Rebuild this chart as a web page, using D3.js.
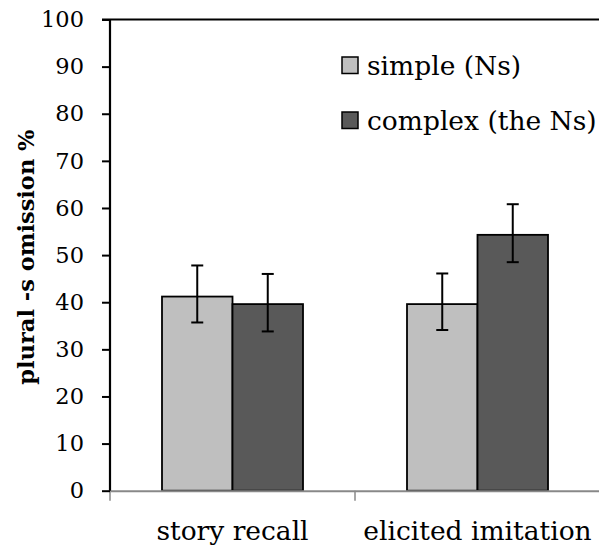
<!DOCTYPE html>
<html>
<head>
<meta charset="utf-8">
<script src="https://cdn.jsdelivr.net/npm/d3@7"></script>
<style>
  html, body { margin: 0; padding: 0; background: #fff; }
  svg { display: block; }
  text { font-family: "DejaVu Serif", serif; }
</style>
</head>
<body>
<svg id="chart" width="599" height="550"></svg>
<script>
const categories = ["story recall", "elicited imitation"];
const seriesNames = ["simple (Ns)", "complex (the Ns)"];
const seriesColors = ["#bfbfbf", "#595959"];
const simpleValues = [41.2, 39.6];
const complexValues = [39.6, 54.3];
const simpleErrLow = [35.7, 34.1];
const simpleErrHigh = [47.8, 46.1];
const complexErrLow = [33.8, 48.5];
const complexErrHigh = [46.0, 60.8];
const yTicks = [0, 10, 20, 30, 40, 50, 60, 70, 80, 90, 100];
const yTitle = "plural -s omission %";

const data = categories.map((c, i) => ({
  category: c,
  values: [
    { s: 0, v: simpleValues[i], lo: simpleErrLow[i], hi: simpleErrHigh[i] },
    { s: 1, v: complexValues[i], lo: complexErrLow[i], hi: complexErrHigh[i] }
  ]
}));

const svg = d3.select("#chart");
const mLeft = 110, mRight = 600, mTop = 19.5, mBottom = 490.7;

const x = d3.scaleBand().domain(categories).range([mLeft, mRight]).padding(0);
const barW = 70.5;
const xs = d3.scaleBand().domain([0, 1]).range([0, barW * 2]).padding(0);
const y = d3.scaleLinear().domain([0, 100]).range([mBottom, mTop]);

// top border
svg.append("line")
  .attr("x1", mLeft - 8).attr("x2", 599)
  .attr("y1", y(100)).attr("y2", y(100))
  .attr("stroke", "#000").attr("stroke-width", 2);

// bars
const groups = svg.append("g").selectAll("g").data(data).join("g")
  .attr("transform", d => `translate(${x(d.category) + x.bandwidth() / 2 - barW},0)`);

groups.selectAll("rect").data(d => d.values).join("rect")
  .attr("x", d => xs(d.s))
  .attr("width", xs.bandwidth())
  .attr("y", d => y(d.v))
  .attr("height", d => y(0) - y(d.v))
  .attr("fill", d => seriesColors[d.s])
  .attr("stroke", "#000")
  .attr("stroke-width", 1.8);

// error bars
const eb = groups.selectAll("g.err").data(d => d.values).join("g").attr("class", "err");
eb.append("line")
  .attr("x1", d => xs(d.s) + xs.bandwidth() / 2)
  .attr("x2", d => xs(d.s) + xs.bandwidth() / 2)
  .attr("y1", d => y(d.lo)).attr("y2", d => y(d.hi))
  .attr("stroke", "#000").attr("stroke-width", 2);
["lo", "hi"].forEach(k => {
  eb.append("line")
    .attr("x1", d => xs(d.s) + xs.bandwidth() / 2 - 6)
    .attr("x2", d => xs(d.s) + xs.bandwidth() / 2 + 6)
    .attr("y1", d => y(d[k])).attr("y2", d => y(d[k]))
    .attr("stroke", "#000").attr("stroke-width", 2);
});

// x axis
const xAxis = svg.append("g")
  .attr("transform", `translate(0,${y(0)})`)
  .call(d3.axisBottom(x).tickSize(0).tickFormat(""));
xAxis.select(".domain").attr("stroke", "#888").attr("stroke-width", 2);
// category boundary ticks
const boundaries = [mLeft, x(categories[1])];
svg.append("g").selectAll("line").data(boundaries).join("line")
  .attr("x1", d => d).attr("x2", d => d)
  .attr("y1", y(0)).attr("y2", y(0) + 10)
  .attr("stroke", "#888").attr("stroke-width", 1.5);

svg.append("g").selectAll("text").data(categories).join("text")
  .attr("x", d => x(d) + x.bandwidth() / 2)
  .attr("y", 540)
  .attr("text-anchor", "middle")
  .attr("font-size", 26.5)
  .attr("fill", "#000")
  .text(d => d);

// y axis
const yAxis = svg.append("g")
  .attr("transform", `translate(${mLeft},0)`)
  .call(d3.axisLeft(y).tickValues(yTicks).tickSize(8).tickPadding(18));
yAxis.select(".domain").attr("stroke", "#000").attr("stroke-width", 2.2).attr("d", `M0,${y(0)}V${y(100)}`);
yAxis.selectAll(".tick line").attr("stroke", "#000").attr("stroke-width", 2);
yAxis.selectAll(".tick text")
  .attr("font-family", "DejaVu Serif, serif")
  .attr("font-size", 22.5).attr("fill", "#000");

svg.append("text")
  .attr("transform", `translate(34,${(y(0) + y(100)) / 2 + 2}) rotate(-90)`)
  .attr("text-anchor", "middle")
  .attr("font-weight", "bold")
  .attr("font-size", 22.5)
  .text(yTitle);

// legend
const legend = svg.append("g").selectAll("g").data(seriesNames).join("g")
  .attr("transform", (d, i) => `translate(342,${57 + i * 55})`);
legend.append("rect")
  .attr("width", 16).attr("height", 16.5)
  .attr("fill", (d, i) => seriesColors[i])
  .attr("stroke", "#000").attr("stroke-width", 1.5);
legend.append("text")
  .attr("x", 25).attr("y", 18)
  .attr("font-size", 26.5)
  .text(d => d);
</script>
</body>
</html>
